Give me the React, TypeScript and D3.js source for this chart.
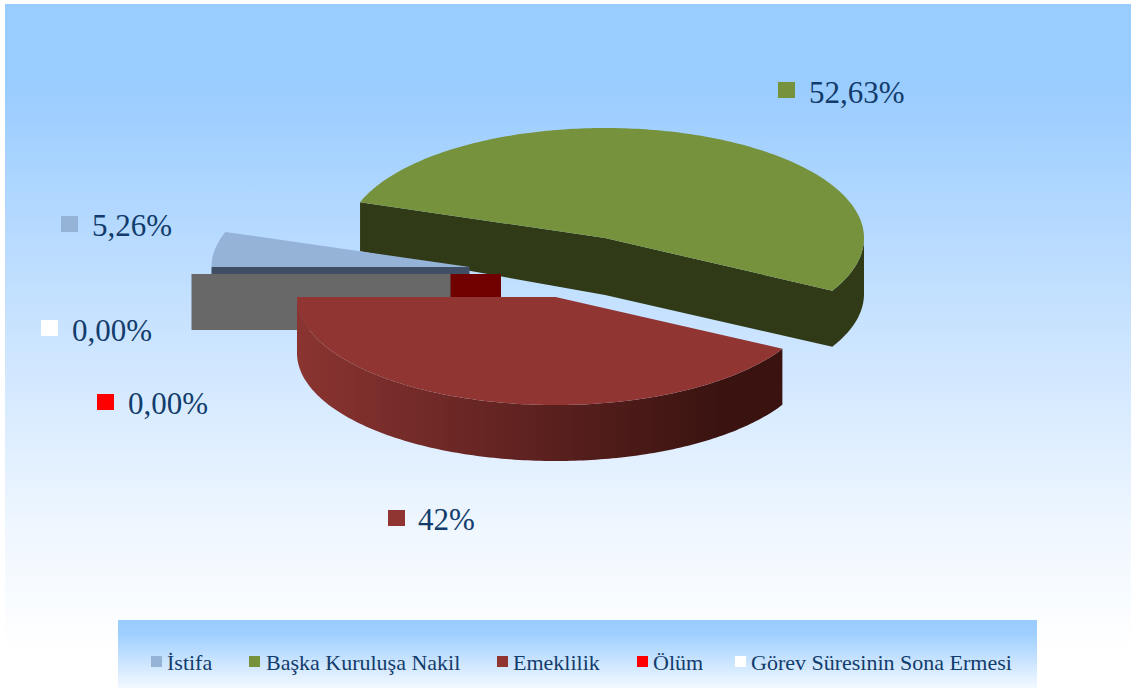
import React from "react";
import * as d3 from "d3";

const categories = ["İstifa", "Başka Kuruluşa Nakil", "Emeklilik", "Ölüm", "Görev Süresinin Sona Ermesi"];
const values = [5.26, 52.63, 42, 0, 0];
const valueLabels = ["5,26%", "52,63%", "42%", "0,00%", "0,00%"];
const topColors = ["#95b3d7", "#76923c", "#913533", "#ff0000", "#ffffff"];
const wallColors = ["#3f4e64", "#303a17", "#3a1310", "#700000", "#686868"];

// layout of each exploded slice: [cx, cy, rx, ry, depth, depth at the left rim]
const sliceLayout: number[][] = [
  [469.5, 267, 258, 108, 56, 56],
  [605, 238, 259, 110, 57, 49],
  [555.5, 297, 258.5, 108, 56, 56],
  [501, 274, 259, 108, 56, 56],
  [450.5, 274, 259, 108, 56, 56],
];
// [swatch x, swatch y, text x, baseline]
const labelLayout: number[][] = [
  [61, 216, 92, 236],
  [778, 82, 809, 103],
  [388, 510, 418, 530],
  [97, 394, 128, 414],
  [41, 320, 72, 340.5],
];
// [swatch x, text x]
const legendLayout: number[][] = [
  [151, 167],
  [249, 266],
  [497, 513],
  [637, 653],
  [735, 751],
];

const width = 1131;
const height = 688;
const fontFamily = "'Liberation Serif', serif";
const textColor = "#123c6c";

const pie = d3.pie<number>().sort(null).startAngle(-Math.PI / 2).endAngle((3 * Math.PI) / 2);
const arcs = pie(values);
const line = d3.line();

type Pt = [number, number];
const at = (l: number[], a: number, dy = 0): Pt => [l[0] + l[2] * Math.sin(a), l[1] - l[3] * Math.cos(a) + dy];
const sweep = (l: number[], a0: number, a1: number, dy = 0): Pt[] => {
  const n = Math.max(2, Math.ceil(Math.abs(a1 - a0) * 60));
  return d3.range(n + 1).map((i) => at(l, a0 + ((a1 - a0) * i) / n, dy));
};
const topFace = (l: number[], a0: number, a1: number) =>
  line([[l[0], l[1]], ...sweep(l, a0, a1)]) + "Z";
const rimWall = (l: number[], a0: number, a1: number) => {
  const s = Math.max(a0, Math.PI / 2);
  const e = Math.min(a1, (3 * Math.PI) / 2);
  if (e <= s) return "";
  return line([...sweep(l, s, e), ...sweep(l, e, s, l[4])]) + "Z";
};
const cutWall = (l: number[], a: number, rimDepth: number) => {
  const p = at(l, a);
  return line([[l[0], l[1]], p, [p[0], p[1] + rimDepth], [l[0], l[1] + l[4]]]) + "Z";
};
// one outline for the whole wall of a slice whose two cuts face the viewer
const fullWall = (l: number[], a0: number, a1: number) => {
  const start = at(l, a0);
  const depthEnd = l[4] - 1;
  return (
    line([
      start,
      [l[0], l[1]],
      ...sweep(l, a1, Math.PI / 2),
      ...sweep(l, Math.PI / 2, a1, depthEnd),
      [l[0], l[1] + l[4]],
      [start[0], start[1] + l[5]],
    ]) + "Z"
  );
};

export default function App() {
  const [ist, nakil, eme, olum, gorev] = arcs;
  const L = sliceLayout;
  return (
    <svg width={width} height={height} style={{ position: "fixed", left: 0, top: 0, display: "block" }}>
      <defs>
        <linearGradient id="bg" gradientUnits="userSpaceOnUse" x1={0} y1={4} x2={0} y2={650}>
          <stop offset="0" stopColor="#99ccff" />
          <stop offset="0.12" stopColor="#99ccff" />
          <stop offset="0.5" stopColor="#c9e3ff" />
          <stop offset="0.8" stopColor="#eef6ff" />
          <stop offset="1" stopColor="#ffffff" />
        </linearGradient>
        <linearGradient id="legendBg" gradientUnits="userSpaceOnUse" x1={0} y1={620} x2={0} y2={690}>
          <stop offset="0" stopColor="#99ccff" />
          <stop offset="0.2" stopColor="#9fcfff" />
          <stop offset="1" stopColor="#f6faff" />
        </linearGradient>
        <linearGradient id="redWall" gradientUnits="userSpaceOnUse" x1={297} y1={0} x2={720} y2={0}>
          <stop offset="0" stopColor="#8a3431" />
          <stop offset="0.6" stopColor="#5a201e" />
          <stop offset="1" stopColor={wallColors[2]} />
        </linearGradient>
      </defs>

      <rect width={width} height={height} fill="#ffffff" />
      <rect x={5} y={4} width={width - 5} height={height - 4} fill="url(#bg)" />

      {/* Başka Kuruluşa Nakil, furthest back */}
      <path d={fullWall(L[1], nakil.startAngle, nakil.endAngle)} fill={wallColors[1]} />
      <path d={topFace(L[1], nakil.startAngle, nakil.endAngle)} fill={topColors[1]} />

      {/* İstifa */}
      <path d={cutWall(L[0], ist.startAngle, L[0][5])} fill={wallColors[0]} />
      <path d={topFace(L[0], ist.startAngle, ist.endAngle)} fill={topColors[0]} />

      {/* zero-valued slices only show their cut sides */}
      <path d={cutWall(L[3], olum.startAngle, L[3][5])} fill={wallColors[3]} />
      <path d={cutWall(L[4], gorev.startAngle, L[4][5])} fill={wallColors[4]} />

      {/* Emeklilik */}
      <path d={rimWall(L[2], eme.startAngle, eme.endAngle)} fill="url(#redWall)" />
      <path d={topFace(L[2], eme.startAngle, eme.endAngle)} fill={topColors[2]} />

      {valueLabels.map((t, i) => (
        <g key={i}>
          <rect x={labelLayout[i][0]} y={labelLayout[i][1]} width={17} height={16} fill={topColors[i]} />
          <text x={labelLayout[i][2]} y={labelLayout[i][3]} fontFamily={fontFamily} fontSize={31} fill={textColor}>
            {t}
          </text>
        </g>
      ))}

      <rect x={118} y={620} width={919} height={68} fill="url(#legendBg)" />
      {categories.map((c, i) => (
        <g key={c}>
          <rect x={legendLayout[i][0]} y={656} width={11} height={11} fill={topColors[i]} />
          <text x={legendLayout[i][1]} y={670} fontFamily={fontFamily} fontSize={22} fill={textColor}>
            {c}
          </text>
        </g>
      ))}
    </svg>
  );
}
